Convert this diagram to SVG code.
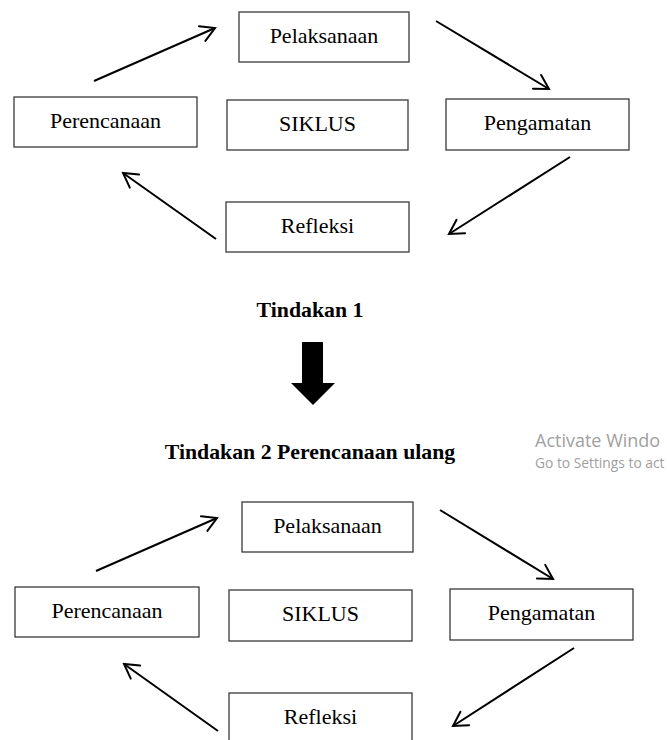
<svg xmlns="http://www.w3.org/2000/svg" width="667" height="740" viewBox="0 0 667 740">
  <style>
    .box { fill: #ffffff; stroke: #3a3a3a; stroke-width: 1.3; }
    .lbl { font-family: "Liberation Serif", "Times New Roman", serif; font-size: 22px; fill: #000; text-anchor: middle; }
    .title { font-family: "Liberation Serif", "Times New Roman", serif; font-size: 21.8px; font-weight: bold; fill: #000; text-anchor: middle; }
    .conn { stroke: #000; stroke-width: 2; fill: none; marker-end: url(#open); }
    .wm1 { font-family: "Open Sans", "Noto Sans", sans-serif; font-size: 18px; fill: #a0a0a0; }
    .wm2 { font-family: "Open Sans", "Noto Sans", sans-serif; font-size: 13.8px; fill: #a0a0a0; }
  </style>
  <defs>
    <marker id="open" viewBox="-17 -10 19 20" refX="0" refY="0" markerWidth="19" markerHeight="20" markerUnits="userSpaceOnUse" orient="auto">
      <path d="M-14,-8 L0,0 L-14,8" fill="none" stroke="#000" stroke-width="2" stroke-linecap="round" stroke-linejoin="miter"/>
    </marker>
  </defs>
  <rect width="667" height="740" fill="#ffffff"/>

  <!-- Top cycle -->
  <g id="top-pelaksanaan"><rect class="box" x="239" y="12" width="170" height="50"/><text class="lbl" x="324" y="43">Pelaksanaan</text></g>
  <g id="top-perencanaan"><rect class="box" x="14" y="97" width="183" height="50"/><text class="lbl" x="105.5" y="128">Perencanaan</text></g>
  <g id="top-siklus"><rect class="box" x="227" y="100" width="181" height="50"/><text class="lbl" x="317.5" y="131">SIKLUS</text></g>
  <g id="top-pengamatan"><rect class="box" x="446" y="99" width="183" height="51"/><text class="lbl" x="537.5" y="130">Pengamatan</text></g>
  <g id="top-refleksi"><rect class="box" x="226" y="202" width="183" height="50"/><text class="lbl" x="317.5" y="233">Refleksi</text></g>

  <!-- Middle -->
  <g id="tindakan1"><text class="title" x="310" y="317">Tindakan 1</text></g>
  <g id="block-arrow"><polygon points="302,342 323,342 323,383 335,383 313,405 291,383 302,383" fill="#000"/></g>
  <g id="tindakan2"><text class="title" x="310" y="459">Tindakan 2 Perencanaan ulang</text></g>
  <g id="watermark">
    <text class="wm1" x="535" y="447">Activate Windo</text>
    <text class="wm2" x="535" y="468">Go to Settings to act</text>
  </g>

  <!-- Bottom cycle -->
  <g id="bot-pelaksanaan"><rect class="box" x="242" y="502" width="171" height="50"/><text class="lbl" x="327.5" y="533">Pelaksanaan</text></g>
  <g id="bot-perencanaan"><rect class="box" x="15" y="587" width="184" height="50"/><text class="lbl" x="107" y="618">Perencanaan</text></g>
  <g id="bot-siklus"><rect class="box" x="229" y="590" width="183" height="51"/><text class="lbl" x="320.5" y="621">SIKLUS</text></g>
  <g id="bot-pengamatan"><rect class="box" x="450" y="589" width="183" height="51"/><text class="lbl" x="541.5" y="620">Pengamatan</text></g>
  <g id="bot-refleksi"><rect class="box" x="229" y="693" width="183" height="60"/><text class="lbl" x="320.5" y="724">Refleksi</text></g>

  <!-- Connectors -->
  <g id="connectors">
    <line class="conn" x1="94" y1="81" x2="215" y2="28"/>
    <line class="conn" x1="436" y1="21" x2="549" y2="89"/>
    <line class="conn" x1="570" y1="157" x2="449" y2="234"/>
    <line class="conn" x1="216" y1="239" x2="123" y2="173"/>

    <line class="conn" x1="96" y1="571" x2="217" y2="518"/>
    <line class="conn" x1="440" y1="510" x2="553" y2="579"/>
    <line class="conn" x1="574" y1="648" x2="453" y2="726"/>
    <line class="conn" x1="218" y1="731" x2="124" y2="664"/>
  </g>
</svg>
